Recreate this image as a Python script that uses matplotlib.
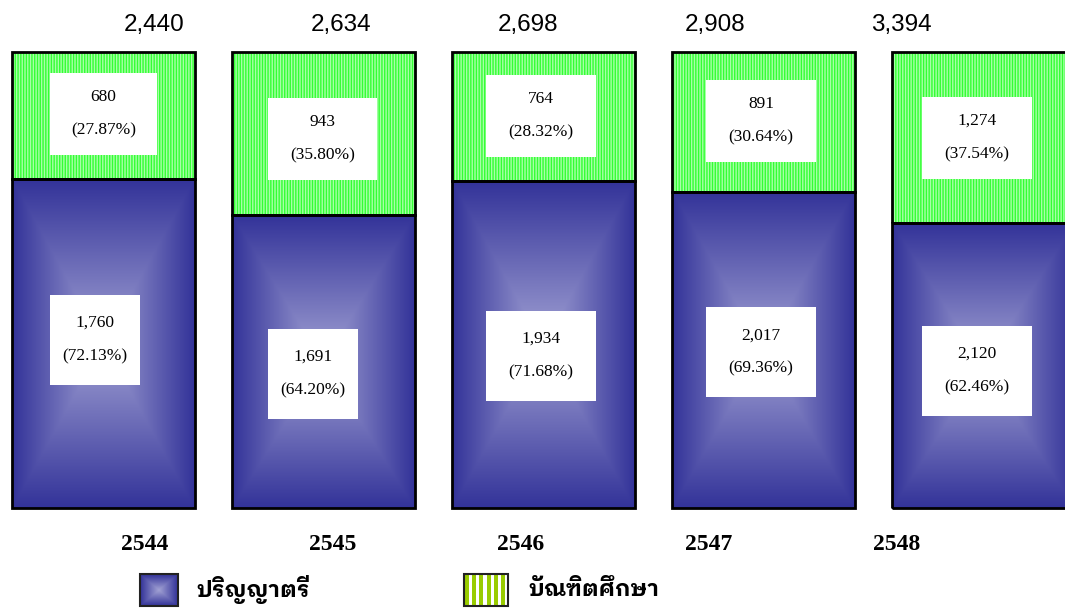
import numpy as np
import matplotlib
matplotlib.use("Agg")
import matplotlib.pyplot as plt
from matplotlib import font_manager
from matplotlib.ft2font import FT2Font
from matplotlib.patches import Rectangle

# ---------------- data ----------------
years = ["2544", "2545", "2546", "2547", "2548"]
bachelor = [1760, 1691, 1934, 2017, 2120]          # ปริญญาตรี
graduate = [680, 943, 764, 891, 1274]              # บัณฑิตศึกษา
bachelor_pct = ["72.13%", "64.20%", "71.68%", "69.36%", "62.46%"]
graduate_pct = ["27.87%", "35.80%", "28.32%", "30.64%", "37.54%"]
totals = [2440, 2634, 2698, 2908, 3394]
legend_labels = ["ปริญญาตรี", "บัณฑิตศึกษา"]

plt.rcParams["hatch.linewidth"] = 1.0

# ---------------- find a Thai-capable font ----------------
def find_thai_font():
    cands = []
    for fe in font_manager.fontManager.ttflist:
        try:
            cmap = FT2Font(fe.fname).get_charmap()
        except Exception:
            continue
        if 0x0E1B in cmap and 0x0E35 in cmap:
            cands.append(fe)
    if not cands:
        return None
    def score(fe):
        s = 0
        n = fe.name.lower()
        if "thai" in n:
            s += 5
        if fe.weight in ("bold", 700) or (isinstance(fe.weight, int) and fe.weight >= 600):
            s += 1
        if "looped" in n:
            s += 2
        return -s
    cands.sort(key=score)
    return cands[0].name

thai_family = find_thai_font()
thai_fonts = [thai_family, "DejaVu Sans"] if thai_family else ["DejaVu Sans"]

serif = ["Liberation Serif", "DejaVu Serif"]
sans = ["Liberation Sans", "DejaVu Sans"]

# ---------------- figure ----------------
W, H, DPI = 1065, 608, 100
fig = plt.figure(figsize=(W / DPI, H / DPI), dpi=DPI)
ax = fig.add_axes([0, 0, 1, 1])

# pixel-calibrated layout
step_px = 220.0
first_center_px = 103.5
bar_w = 183.0 / step_px
base_py, top_py = 508.0, 52.0
unit_py = base_py - top_py
x_left = -first_center_px / step_px
x_right = (W - first_center_px) / step_px
y_bottom = -(H - base_py) / unit_py
y_top = base_py / unit_py
ax.set_xlim(x_left, x_right)
ax.set_ylim(y_bottom, y_top)
ax.axis("off")

dark = np.array([51, 51, 153]) / 255.0
light = np.array([162, 162, 212]) / 255.0


def rect_gradient(nx=120, ny=240, power=1.0):
    xs = np.linspace(-1, 1, nx)
    ys = np.linspace(-1, 1, ny)
    X, Y = np.meshgrid(xs, ys)
    t = np.maximum(np.abs(X), np.abs(Y)) ** power
    img = light[None, None, :] * (1 - t[..., None]) + dark[None, None, :] * t[..., None]
    return img


grad = rect_gradient()
x = np.arange(len(years))

# label-box styling (pixels)
blue_box_w = [90, 90, 110, 110, 110]
green_box_w = [107, 109, 110, 110, 110]
box_left_off = [38, 36, 34, 34, 30]
blue_box_dy = [-4, 12, 11, 2, 5]
green_box_dy = [-2, 5, -1, -1, 0]

for i in x:
    tot = bachelor[i] + graduate[i]
    fb = bachelor[i] / tot
    fg = graduate[i] / tot
    x0 = i - bar_w / 2
    # blue gradient segment
    ax.imshow(grad, extent=(x0, x0 + bar_w, 0, fb), aspect="auto",
              interpolation="bilinear", zorder=1)
    ax.add_patch(Rectangle((x0, 0), bar_w, fb, fill=False, edgecolor="black",
                           linewidth=2.0, zorder=3))
    # green hatched segment
    ax.add_patch(Rectangle((x0, fb), bar_w, fg, facecolor="#A8FFA8",
                           edgecolor="#33FF33", hatch="||||||", linewidth=0, zorder=1))
    ax.add_patch(Rectangle((x0, fb), bar_w, fg, fill=False, edgecolor="black",
                           linewidth=2.0, zorder=3))

    # label boxes
    bw = blue_box_w[i] / step_px
    bh = 90.0 / unit_py
    cy = fb / 2 - blue_box_dy[i] / unit_py
    bx0 = x0 + box_left_off[i] / step_px
    ax.add_patch(Rectangle((bx0, cy - bh / 2), bw, bh, facecolor="white",
                           edgecolor="none", zorder=4))
    ax.text(bx0 + bw / 2, cy, f"{bachelor[i]:,}\n\n({bachelor_pct[i]})",
            ha="center", va="center", fontsize=12.5, family=serif,
            linespacing=1.05, zorder=5)

    gw = green_box_w[i] / step_px
    gh = 82.0 / unit_py
    gcy = fb + fg / 2 - green_box_dy[i] / unit_py
    gx0 = x0 + box_left_off[i] / step_px
    ax.add_patch(Rectangle((gx0, gcy - gh / 2), gw, gh, facecolor="white",
                           edgecolor="none", zorder=4))
    ax.text(gx0 + gw / 2, gcy, f"{graduate[i]:,}\n\n({graduate_pct[i]})",
            ha="center", va="center", fontsize=12.5, family=serif,
            linespacing=1.05, zorder=5)

# totals above bars (own spacing, as in reference)
tot_step = 186.8 / step_px
tot_x0 = (154.5 - first_center_px) / step_px
for i, t in enumerate(totals):
    ax.text(tot_x0 + i * tot_step, (base_py - 25) / unit_py, f"{t:,}",
            ha="center", va="center", fontsize=17.5, family=sans, zorder=5)

# year labels
yr_step = 188.0 / step_px
yr_x0 = (145.0 - first_center_px) / step_px
for i, yv in enumerate(years):
    ax.text(yr_x0 + i * yr_step, (base_py - 544) / unit_py, yv,
            ha="center", va="center", fontsize=17, family=serif,
            fontweight="bold", zorder=5)

# ---------------- legend ----------------
def px2data(px, py):
    return ((px - first_center_px) / step_px, (base_py - py) / unit_py)

# blue swatch
sx0, sy0 = px2data(140, 606)
sx1, sy1 = px2data(178, 574)
ax.imshow(rect_gradient(40, 40, 1.0), extent=(sx0, sx1, sy0, sy1), aspect="auto",
          interpolation="bilinear", zorder=4)
ax.add_patch(Rectangle((sx0, sy0), sx1 - sx0, sy1 - sy0, fill=False,
                       edgecolor="#222222", linewidth=1.5, zorder=5))
tx, ty = px2data(196, 590)
ax.text(tx, ty, legend_labels[0], ha="left", va="center", fontsize=16,
        family=thai_fonts, fontweight="bold", zorder=5)

# green swatch: yellow-green stripes on white
gx0_, gy0_ = px2data(464, 606)
gx1_, gy1_ = px2data(508, 574)
ax.add_patch(Rectangle((gx0_, gy0_), gx1_ - gx0_, gy1_ - gy0_, facecolor="white",
                       edgecolor="none", zorder=4))
for k in range(6):
    s0, _ = px2data(465 + k * 7.2, 0)
    s1, _ = px2data(465 + k * 7.2 + 4, 0)
    ax.add_patch(Rectangle((s0, gy0_), s1 - s0, gy1_ - gy0_, facecolor="#99CC00",
                           edgecolor="none", zorder=4))
ax.add_patch(Rectangle((gx0_, gy0_), gx1_ - gx0_, gy1_ - gy0_, fill=False,
                       edgecolor="#222222", linewidth=1.5, zorder=5))
tx, ty = px2data(528, 590)
ax.text(tx, ty, legend_labels[1], ha="left", va="center", fontsize=16,
        family=thai_fonts, fontweight="bold", zorder=5)

fig.savefig("out.png", dpi=DPI, facecolor="white")
